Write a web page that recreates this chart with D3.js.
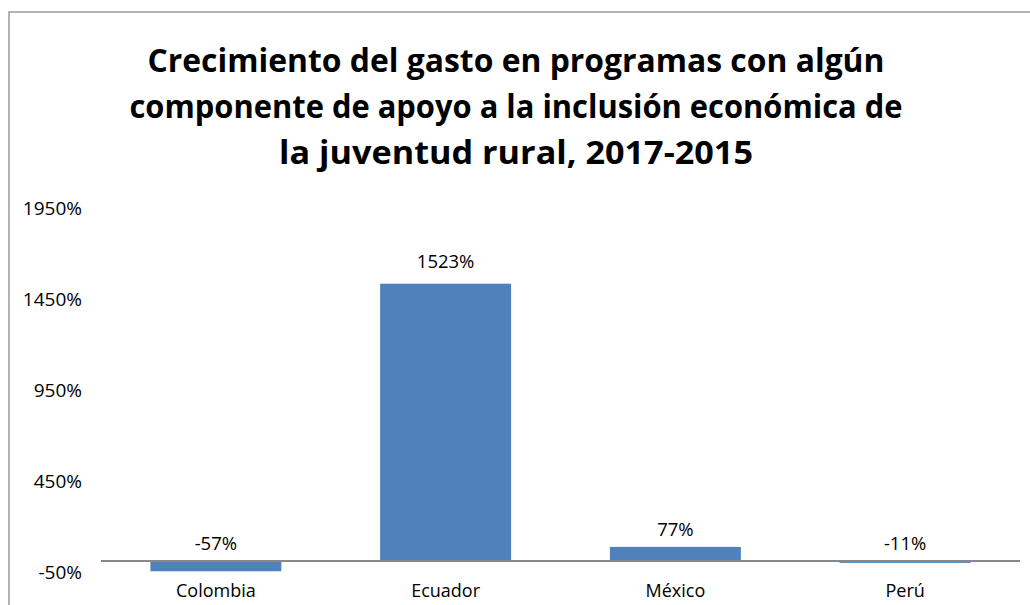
<!DOCTYPE html>
<html>
<head>
<meta charset="utf-8">
<script src="https://cdn.jsdelivr.net/npm/d3@7"></script>
<style>
  body { margin: 0; background: #fff; }
  text { font-family: "Open Sans", sans-serif; fill: #000; }
</style>
</head>
<body>
<svg id="chart" width="1030" height="605"></svg>
<script>
const countries = ["Colombia", "Ecuador", "México", "Perú"];
const growth = [-57, 1523, 77, -11];
const yTicks = [-50, 450, 950, 1450, 1950];
const titleLines = [
  "Crecimiento del gasto en programas con algún",
  "componente de apoyo a la inclusión económica de",
  "la juventud rural, 2017-2015"
];
const titleWidths = [737, 773, 474];

const svg = d3.select("#chart");

// chart frame
svg.append("rect")
  .attr("x", 9).attr("y", 12)
  .attr("width", 1040).attr("height", 620)
  .attr("fill", "none")
  .attr("stroke", "#999")
  .attr("stroke-width", 1.5);

// title
svg.append("g").selectAll("text")
  .data(titleLines)
  .enter()
  .append("text")
  .attr("x", 516)
  .attr("y", (d, i) => 72 + i * 46)
  .attr("text-anchor", "middle")
  .attr("font-size", 33)
  .attr("font-weight", "bold")
  .attr("textLength", (d, i) => titleWidths[i])
  .attr("lengthAdjust", "spacingAndGlyphs")
  .text(d => d);

const x = d3.scaleBand()
  .domain(countries)
  .range([101, 1020])
  .paddingInner(0.43)
  .paddingOuter(0.215);

const y = d3.scaleLinear()
  .domain([-50, 1950])
  .range([570, 206]);

// y axis labels (no line, no ticks)
const yAxis = svg.append("g")
  .attr("transform", "translate(82,0)")
  .call(d3.axisLeft(y).tickValues(yTicks).tickSize(0).tickPadding(0).tickFormat(d => d + "%"));
yAxis.select(".domain").remove();
yAxis.selectAll("text")
  .attr("font-size", 19)
  .attr("font-family", "Open Sans, sans-serif")
  .attr("fill", "#000")
  .attr("dy", "0.45em");

// bars
svg.append("g").selectAll("rect")
  .data(growth)
  .enter()
  .append("rect")
  .attr("x", (d, i) => x(countries[i]))
  .attr("width", x.bandwidth())
  .attr("y", d => y(Math.max(0, d)))
  .attr("height", d => Math.abs(y(d) - y(0)))
  .attr("fill", "#4F81BD");

// zero axis line
svg.append("line")
  .attr("x1", 101).attr("x2", 1020)
  .attr("y1", y(0)).attr("y2", y(0))
  .attr("stroke", "#888")
  .attr("stroke-width", 2);

// data labels
svg.append("g").selectAll("text")
  .data(growth)
  .enter()
  .append("text")
  .attr("x", (d, i) => x(countries[i]) + x.bandwidth() / 2)
  .attr("y", d => y(Math.max(0, d)) - (d > 1000 ? 16 : 11))
  .attr("text-anchor", "middle")
  .attr("font-size", 18.5)
  .text(d => d + "%");

// category labels
svg.append("g").selectAll("text")
  .data(countries)
  .enter()
  .append("text")
  .attr("x", d => x(d) + x.bandwidth() / 2)
  .attr("y", 597)
  .attr("text-anchor", "middle")
  .attr("font-size", 18)
  .text(d => d);
</script>
</body>
</html>
